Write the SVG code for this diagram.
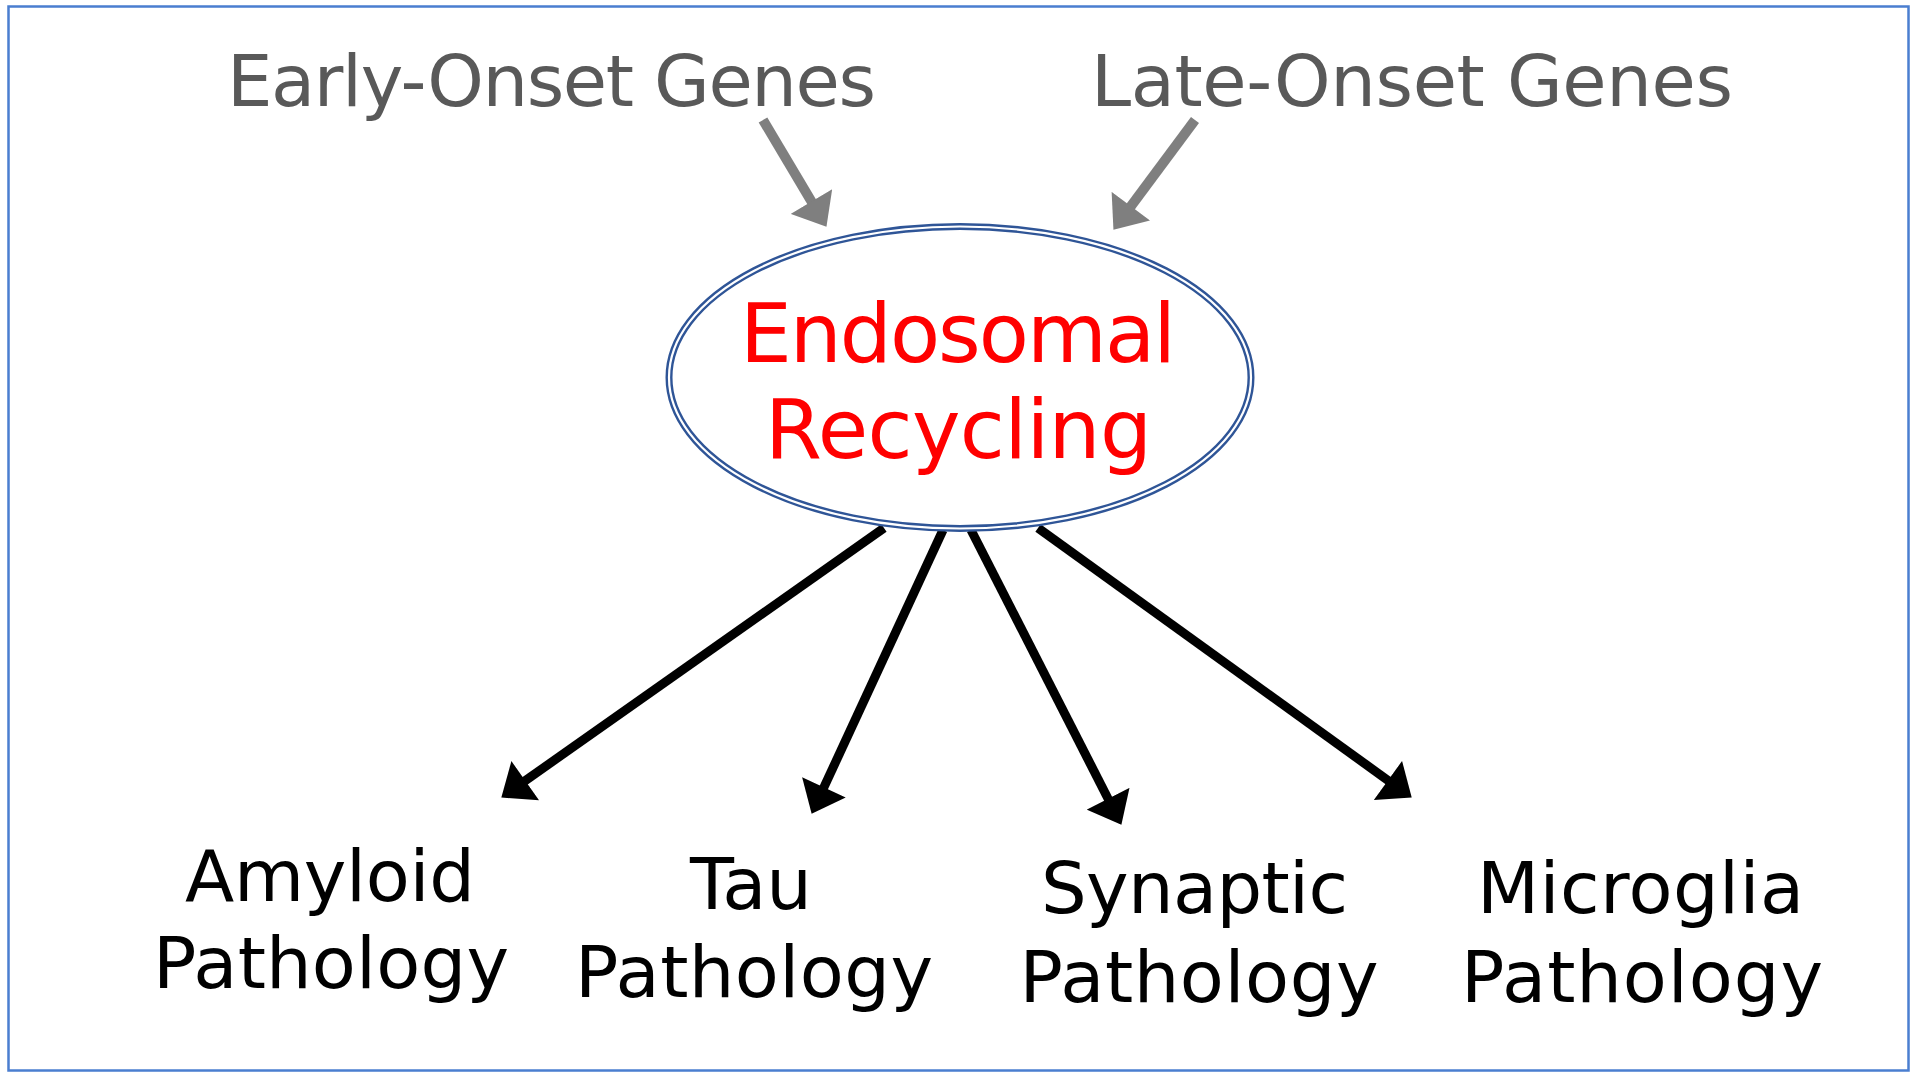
<svg xmlns="http://www.w3.org/2000/svg" width="1920" height="1078" viewBox="0 0 1920 1078">
<style>
  .lbl { font-family: "DejaVu Sans", "Liberation Sans", sans-serif; font-size: 72px; text-anchor: middle; }
  .gene { fill: #595959; }
  .path { fill: #000000; }
  .core { font-family: "DejaVu Sans", "Liberation Sans", sans-serif; font-size: 82px; text-anchor: middle; fill: #ff0000; }
  .grayline { stroke: #7f7f7f; stroke-width: 10; fill: none; marker-end: url(#headGray); }
  .blackline { stroke: #000000; stroke-width: 9; fill: none; marker-end: url(#headBlack); }
</style>
<defs>
  <marker id="headBlack" markerUnits="userSpaceOnUse" markerWidth="30" markerHeight="48" viewBox="0 0 28 46" refX="8" refY="23" orient="auto">
    <path d="M0,0 L28,23 L0,46 z" fill="#000000"/>
  </marker>
  <marker id="headGray" markerUnits="userSpaceOnUse" markerWidth="30" markerHeight="48" viewBox="0 0 28 46" refX="8" refY="23" orient="auto">
    <path d="M0,0 L28,23 L0,46 z" fill="#7f7f7f"/>
  </marker>
</defs>
<rect x="0" y="0" width="1920" height="1078" fill="#ffffff"/>
<rect id="frame" x="8.5" y="6.5" width="1900" height="1064" fill="none" stroke="#4a7ed0" stroke-width="2.5"/>

<g id="connectors">
  <line class="grayline" x1="763" y1="120" x2="815.8" y2="208.8"/>
  <line class="grayline" x1="1195" y1="120" x2="1125.9" y2="212.9"/>
  <line class="blackline" x1="884" y1="528" x2="518.4" y2="785.5"/>
  <line class="blackline" x1="943" y1="530" x2="820.4" y2="794.9"/>
  <line class="blackline" x1="971" y1="530" x2="1111.9" y2="806.2"/>
  <line class="blackline" x1="1038" y1="528" x2="1394.8" y2="785.3"/>
</g>

<g id="early-genes">
  <text class="lbl gene" x="551.5" y="106" textLength="649" lengthAdjust="spacing">Early-Onset Genes</text>
</g>
<g id="late-genes">
  <text class="lbl gene" x="1412" y="106" textLength="642" lengthAdjust="spacing">Late-Onset Genes</text>
</g>

<g id="endosomal-recycling">
  <ellipse cx="960" cy="377.5" rx="291" ry="151" fill="#ffffff" stroke="#2f5597" stroke-width="7"/>
  <ellipse cx="960" cy="377.5" rx="291" ry="151" fill="none" stroke="#ffffff" stroke-width="2.2"/>
  <text class="core" x="958" y="362" textLength="436" lengthAdjust="spacing">Endosomal</text>
  <text class="core" x="958.5" y="458" textLength="387" lengthAdjust="spacing">Recycling</text>
</g>

<g id="amyloid">
  <text class="lbl path" x="330" y="901" textLength="290" lengthAdjust="spacing">Amyloid</text>
  <text class="lbl path" x="331" y="988" textLength="356" lengthAdjust="spacing">Pathology</text>
</g>
<g id="tau">
  <text class="lbl path" x="751" y="909" textLength="122" lengthAdjust="spacing">Tau</text>
  <text class="lbl path" x="754" y="997" textLength="358" lengthAdjust="spacing">Pathology</text>
</g>
<g id="synaptic">
  <text class="lbl path" x="1194.5" y="913" textLength="307" lengthAdjust="spacing">Synaptic</text>
  <text class="lbl path" x="1199" y="1002" textLength="359" lengthAdjust="spacing">Pathology</text>
</g>
<g id="microglia">
  <text class="lbl path" x="1640.5" y="913" textLength="327" lengthAdjust="spacing">Microglia</text>
  <text class="lbl path" x="1642" y="1002" textLength="362" lengthAdjust="spacing">Pathology</text>
</g>
</svg>
